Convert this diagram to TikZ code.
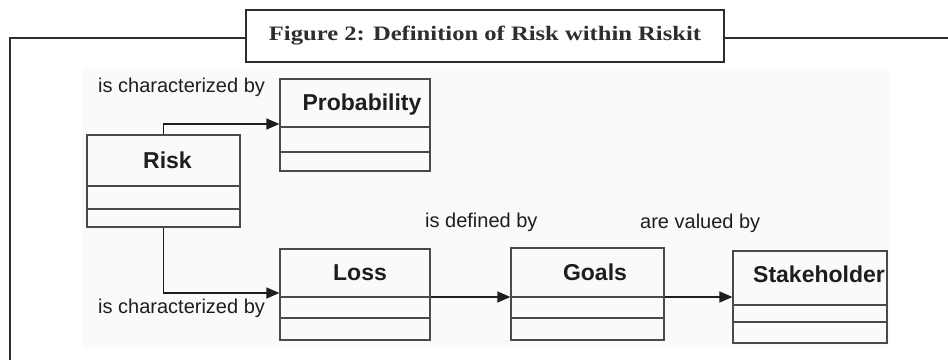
\documentclass[tikz,border=0pt]{standalone}
\usepackage{fontspec}
\setsansfont{Liberation Sans}
\newfontfamily\captionserif{Liberation Serif}
\usetikzlibrary{arrows.meta}
\definecolor{ink}{HTML}{1E1E1E}
\definecolor{boxline}{HTML}{4A4A4A}
\definecolor{panel}{HTML}{FAFAFA}
\definecolor{frameline}{HTML}{2E2E2E}
\tikzset{
  classbox/.style={draw=boxline, line width=1.2pt, inner sep=0pt},
  divider/.style={draw=boxline, line width=1.2pt},
  classname/.style={font=\sffamily\bfseries\fontsize{23}{26}\selectfont, text=ink, inner sep=0pt, anchor=base},
  rel/.style={font=\sffamily\fontsize{20}{23}\selectfont, text=ink, inner sep=0pt, anchor=base west},
  assoc/.style={draw=ink, line width=1.2pt, -{Triangle[length=13pt,width=11pt]}},
  framestroke/.style={draw=frameline, line width=1.8pt},
}
\begin{document}
\begin{tikzpicture}[x=1pt, y=-1pt]
\useasboundingbox (0,0) rectangle (948,359);
% light panel behind the class diagram
\fill[panel] (82,68) rectangle (889,348);

% outer frame with the caption box
\draw[framestroke] (10,360) -- (10,38) -- (246,38);
\draw[framestroke] (724,38) -- (949,38);
\node[framestroke, fill=white, minimum width=478pt, minimum height=52pt, inner sep=0pt] (title) at (485,36) {};
\node[inner sep=0pt, anchor=base, text=frameline] (titletext) at (485,40)
  {\scalebox{1.2}[1]{\captionserif\bfseries\fontsize{20.5}{24}\selectfont Figure 2: Definition of Risk within Riskit}};

% classes
\node[classbox, minimum width=150pt, minimum height=92pt] (prob) at (355,125) {};
\node[classbox, minimum width=153pt, minimum height=92pt] (risk) at (163.5,181) {};
\node[classbox, minimum width=150pt, minimum height=91pt] (loss) at (355,294.5) {};
\node[classbox, minimum width=153pt, minimum height=92pt] (goals) at (587.5,294) {};
\node[classbox, minimum width=154pt, minimum height=92pt] (stake) at (810,297) {};

% compartment dividers
\draw[divider] (prob.west |- 0,127) -- (prob.east |- 0,127);
\draw[divider] (prob.west |- 0,152) -- (prob.east |- 0,152);
\draw[divider] (risk.west |- 0,186) -- (risk.east |- 0,186);
\draw[divider] (risk.west |- 0,209) -- (risk.east |- 0,209);
\draw[divider] (loss.west |- 0,297) -- (loss.east |- 0,297);
\draw[divider] (loss.west |- 0,318) -- (loss.east |- 0,318);
\draw[divider] (goals.west |- 0,297) -- (goals.east |- 0,297);
\draw[divider] (goals.west |- 0,318) -- (goals.east |- 0,318);
\draw[divider] (stake.west |- 0,305) -- (stake.east |- 0,305);
\draw[divider] (stake.west |- 0,322) -- (stake.east |- 0,322);

% class names
\node[classname] (probname) at (362,110) {Probability};
\node[classname] (riskname) at (167.5,168) {Risk};
\node[classname] (lossname) at (360,280) {Loss};
\node[classname] (goalsname) at (595,280) {Goals};
\node[classname] (stakename) at (819,282) {Stakeholder};

% associations
\draw[assoc] (risk.north) |- (prob.west |- 0,124);
\draw[assoc] (risk.south) |- (loss.west |- 0,293);
\draw[assoc] (loss.east |- 0,297) -- (goals.west |- 0,297);
\draw[assoc] (goals.east |- 0,297) -- (stake.west |- 0,297);

% association labels
\node[rel] (charprob) at (98,92) {is characterized by};
\node[rel] (charloss) at (98,313) {is characterized by};
\node[rel] (defined) at (425,227) {is defined by};
\node[rel] (valued) at (640,228) {are valued by};
\end{tikzpicture}
\end{document}
